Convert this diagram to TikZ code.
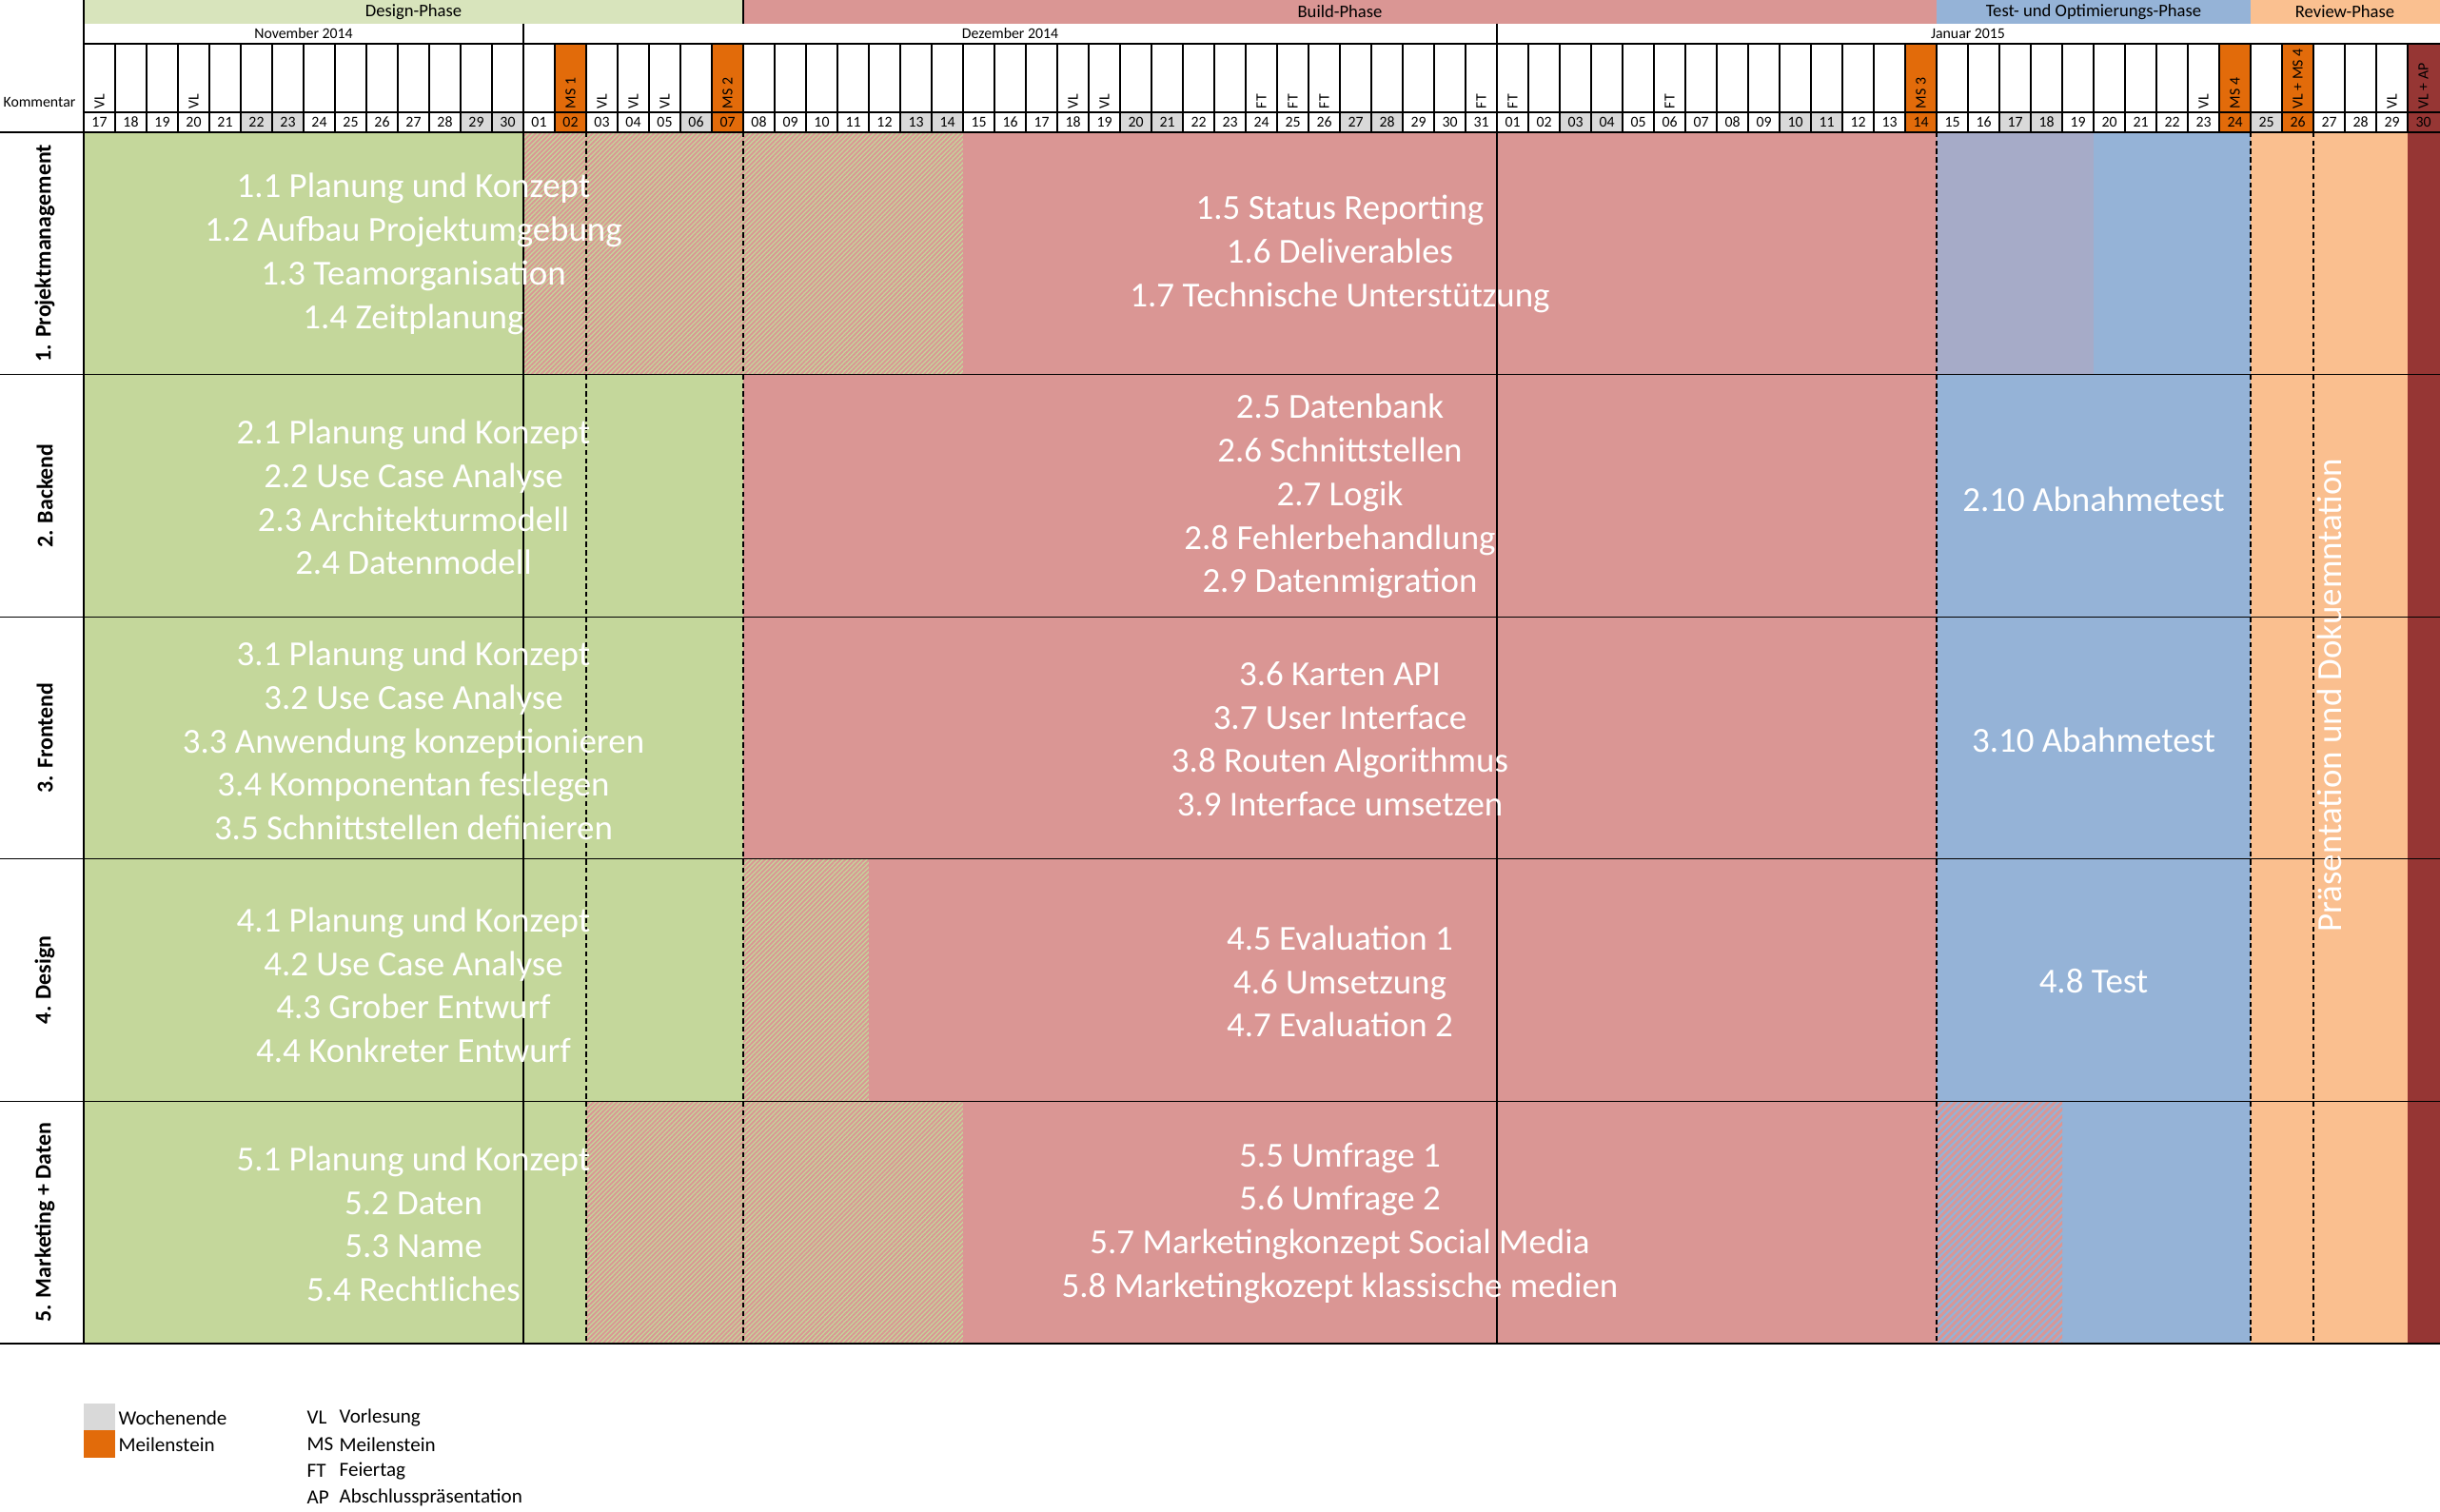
\documentclass[tikz,border=0pt]{standalone}
\usepackage{fontspec}
\setmainfont{Carlito}
\usepackage{tikz}
\usetikzlibrary{patterns.meta}
\definecolor{designgreen}{HTML}{C4D79B}
\definecolor{designhead}{HTML}{D8E4BC}
\definecolor{buildrose}{HTML}{DA9694}
\definecolor{testblue}{HTML}{95B3D7}
\definecolor{revieworange}{HTML}{FABF8F}
\definecolor{reviewhead}{HTML}{FAC090}
\definecolor{apred}{HTML}{963634}
\definecolor{msorange}{HTML}{E26B0A}
\definecolor{wegrey}{HTML}{D9D9D9}
\definecolor{mixpurple}{HTML}{A6ABC8}

\begin{document}
\begin{tikzpicture}[x=0.33cm,y=-0.01cm,
		task/.style={align=center,text=white,inner sep=0pt,font=\fontsize{10.5}{13}\selectfont},
		phase/.style={inner sep=0pt,font=\fontsize{5.3}{6}\selectfont},
		hdrtxt/.style={inner sep=0pt,font=\fontsize{4.5}{5.4}\selectfont},
		cmt/.style={hdrtxt,rotate=90,anchor=west},
		rowlab/.style={inner sep=0pt,rotate=90,font=\bfseries\fontsize{6.8}{8}\selectfont},
		leg/.style={inner sep=0pt,anchor=west,font=\fontsize{6}{7.5}\selectfont},
		mixgr/.style={fill=designgreen,postaction={pattern={Lines[angle=45,distance=1pt,line width=0.55pt]},pattern color=buildrose}},
		mixrb/.style={fill=testblue,postaction={pattern={Lines[angle=45,distance=1.5pt,line width=0.8pt]},pattern color=buildrose}},
		gridline/.style={line width=0.4pt},
		msline/.style={line width=0.4pt,dash pattern=on 1.5pt off 1pt}]
	
	\useasboundingbox (-2.667,0) rectangle (75.03,1589);
	
	\fill[designhead] (0,0) rectangle (21,25);
	\fill[buildrose] (21,0) rectangle (59,25);
	\fill[testblue] (59,0) rectangle (69,25);
	\fill[reviewhead] (69,0) rectangle (75.03,25);
	
	\fill[designgreen] (0,139) rectangle (21,1413);
	\fill[buildrose] (21,139) rectangle (59,1413);
	\fill[testblue] (59,139) rectangle (69,1413);
	\fill[revieworange] (69,139) rectangle (74,1413);
	\fill[apred] (74,46) rectangle (75.03,1413);
	\path[mixgr] (14,139) rectangle (28,394);
	\fill[mixpurple] (59,139) rectangle (64,394);
	\path[mixgr] (21,903) rectangle (25,1158);
	\path[mixgr] (16,1158) rectangle (28,1413);
	\path[mixrb] (59,1158) rectangle (63,1413);
	
	\foreach \c in {5,6,12,13,19,26,27,33,34,40,41,47,48,54,55,61,62,69}
		\fill[wegrey] (\c,118) rectangle (\c+1,139);
	\foreach \c in {15,20,58,68,70}
		\fill[msorange] (\c,46) rectangle (\c+1,139);
	
	\draw[gridline] (0,46) -- (75.03,46);
	\draw[gridline] (0,118) -- (75.03,118);
	\foreach \c in {1,...,74}
		\draw[gridline] (\c,46) -- (\c,139);
	\draw[gridline] (21,0) -- (21,25);
	\foreach \c in {14,45}
		\draw[gridline] (\c,25) -- (\c,1413);
	\foreach \c in {16,21,59,69,71}
		\draw[msline] (\c,139) -- (\c,1413);
	\foreach \y in {139,394,649,903,1158,1413}
		\draw[gridline] (-2.667,\y) -- (75.03,\y);
	\draw[line width=0.6pt] (0,0) -- (0,1413);
	
	\node[phase] (pd) at (10.5,12.5) {Design-Phase};
	\node[phase] (pb) at (40,12.5) {Build-Phase};
	\node[phase] (pt) at (64,12.5) {Test- und Optimierungs-Phase};
	\node[phase] (pr) at (72,12.5) {Review-Phase};
	
	\node[hdrtxt] (mn) at (7,35.5) {November 2014};
	\node[hdrtxt] (md) at (29.5,35.5) {Dezember 2014};
	\node[hdrtxt] (mj) at (60,35.5) {Januar 2015};
	\node[hdrtxt,anchor=west] (kom) at (-2.58,108) {Kommentar};
	
	\foreach \d [count=\i from 0] in {17,18,19,20,21,22,23,24,25,26,27,28,29,30}
		\node[hdrtxt] (d\i) at (\i+0.5,128.5) {\d};
	\foreach \d [count=\i from 14] in {01,02,03,04,05,06,07,08,09,10,11,12,13,14,15,16,17,18,19,20,21,22,23,24,25,26,27,28,29,30,31}
		\node[hdrtxt] (d\i) at (\i+0.5,128.5) {\d};
	\foreach \d [count=\i from 45] in {01,02,03,04,05,06,07,08,09,10,11,12,13,14,15,16,17,18,19,20,21,22,23,24,25,26,27,28,29,30}
		\node[hdrtxt] (d\i) at (\i+0.5,128.5) {\d};
	
	\foreach \c/\t in {0/VL,3/VL,15/MS 1,16/VL,17/VL,18/VL,20/MS 2,31/VL,32/VL,37/FT,38/FT,39/FT,44/FT,45/FT,50/FT,58/MS 3,67/VL,68/MS 4,70/VL + MS 4,73/VL,74/VL + AP}
		\node[cmt] (k\c) at (\c+0.5,115) {\t};
	
	\node[rowlab] (r1) at (-1.24,266.5) {1. Projektmanagement};
	\node[rowlab] (r2) at (-1.24,521.5) {2. Backend};
	\node[rowlab] (r3) at (-1.24,776) {3. Frontend};
	\node[rowlab] (r4) at (-1.24,1030.5) {4. Design};
	\node[rowlab] (r5) at (-1.24,1285.5) {5. Marketing + Daten};
	
	\node[task] (n11) at (10.5,267) {1.1 Planung und Konzept\\1.2 Aufbau Projektumgebung\\1.3 Teamorganisation\\1.4 Zeitplanung};
	\node[task] (n12) at (40,267) {1.5 Status Reporting\\1.6 Deliverables\\1.7 Technische Unterstützung};
	\node[task] (n21) at (10.5,523) {2.1 Planung und Konzept\\2.2 Use Case Analyse\\2.3 Architekturmodell\\2.4 Datenmodell};
	\node[task] (n22) at (40,522) {2.5 Datenbank\\2.6 Schnittstellen\\2.7 Logik\\2.8 Fehlerbehandlung\\2.9 Datenmigration};
	\node[task] (n23) at (64,525) {2.10 Abnahmetest};
	\node[task] (n31) at (10.5,779) {3.1 Planung und Konzept\\3.2 Use Case Analyse\\3.3 Anwendung konzeptionieren\\3.4 Komponentan festlegen\\3.5 Schnittstellen definieren};
	\node[task] (n32) at (40,777) {3.6 Karten API\\3.7 User Interface\\3.8 Routen Algorithmus\\3.9 Interface umsetzen};
	\node[task] (n33) at (64,778) {3.10 Abahmetest};
	\node[task] (n41) at (10.5,1036) {4.1 Planung und Konzept\\4.2 Use Case Analyse\\4.3 Grober Entwurf\\4.4 Konkreter Entwurf};
	\node[task] (n42) at (40,1032) {4.5 Evaluation 1\\4.6 Umsetzung\\4.7 Evaluation 2};
	\node[task] (n43) at (64,1032) {4.8 Test};
	\node[task] (n51) at (10.5,1287) {5.1 Planung und Konzept\\5.2 Daten\\5.3 Name\\5.4 Rechtliches};
	\node[task] (n52) at (40,1286) {5.5 Umfrage 1\\5.6 Umfrage 2\\5.7 Marketingkonzept Social Media\\5.8 Marketingkozept klassische medien};
	\node[task,rotate=90] (prae) at (71.5,731) {Präsentation und Dokuemntation};
	
	\fill[wegrey] (0,1476) rectangle (1,1504);
	\fill[msorange] (0,1504) rectangle (1,1533);
	\node[leg] (lw) at (1.09,1491) {Wochenende};
	\node[leg] (lm) at (1.09,1519) {Meilenstein};
	\node[leg] (a1) at (7.09,1491) {VL};
	\node[leg] (b1) at (8.12,1491) {Vorlesung};
	\node[leg] (a2) at (7.09,1519) {MS};
	\node[leg] (b2) at (8.12,1519) {Meilenstein};
	\node[leg] (a3) at (7.09,1547) {FT};
	\node[leg] (b3) at (8.12,1547) {Feiertag};
	\node[leg] (a4) at (7.09,1575) {AP};
	\node[leg] (b4) at (8.12,1575) {Abschlusspräsentation};
\end{tikzpicture}
\end{document}
